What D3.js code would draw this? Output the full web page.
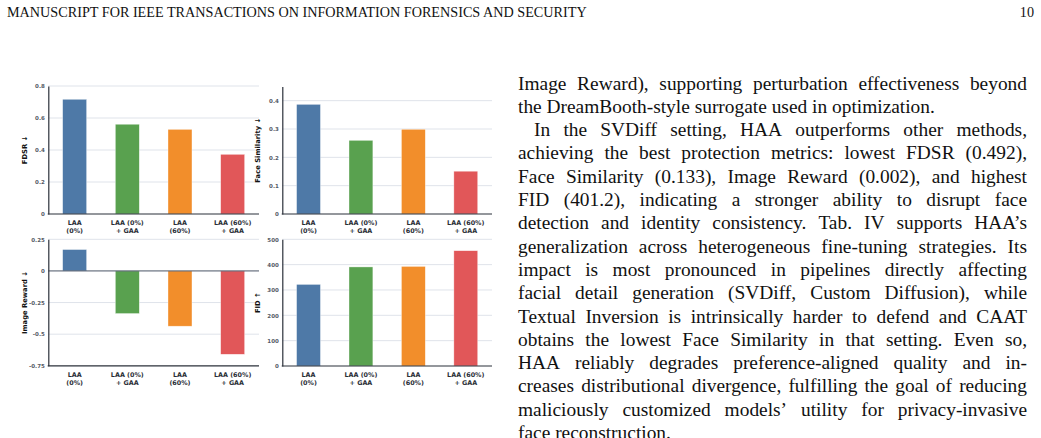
<!DOCTYPE html>
<html>
<head>
<meta charset="utf-8">
<script src="https://cdn.jsdelivr.net/npm/d3@7"></script>
<style>
  html, body { margin: 0; padding: 0; background: #fff; }
  svg { display: block; }
</style>
</head>
<body>
<svg id="page" width="1041" height="438"></svg>
<script>
// methods shown on the x axis of every panel
const methods = [["LAA", "(0%)"], ["LAA (0%)", "+ GAA"], ["LAA", "(60%)"], ["LAA (60%)", "+ GAA"]];
const barColors = ["#4e79a7", "#59a14f", "#f28e2b", "#e15759"];

// metric values
const fdsr = [0.717, 0.561, 0.529, 0.373];
const faceSim = [0.387, 0.260, 0.299, 0.151];
const imageReward = [0.169, -0.337, -0.437, -0.659];
const fid = [322, 391, 393, 455];

const fdsrTicks = [0, 0.2, 0.4, 0.6, 0.8];
const faceSimTicks = [0, 0.1, 0.2, 0.3, 0.4];
const rewardTicks = [-0.75, -0.5, -0.25, 0, 0.25];
const fidTicks = [0, 100, 200, 300, 400, 500];

const headerLeft = "MANUSCRIPT FOR IEEE TRANSACTIONS ON INFORMATION FORENSICS AND SECURITY";
const headerRight = "10";

// body text, one entry per printed line; last lines of paragraphs are not justified
const bodyLines = [
  ["Image Reward), supporting perturbation effectiveness beyond", true, false],
  ["the DreamBooth-style surrogate used in optimization.", false, false],
  ["In the SVDiff setting, HAA outperforms other methods,", true, true],
  ["achieving the best protection metrics: lowest FDSR (0.492),", true, false],
  ["Face Similarity (0.133), Image Reward (0.002), and highest", true, false],
  ["FID (401.2), indicating a stronger ability to disrupt face", true, false],
  ["detection and identity consistency. Tab. IV supports HAA\u2019s", true, false],
  ["generalization across heterogeneous fine-tuning strategies. Its", true, false],
  ["impact is most pronounced in pipelines directly affecting", true, false],
  ["facial detail generation (SVDiff, Custom Diffusion), while", true, false],
  ["Textual Inversion is intrinsically harder to defend and CAAT", true, false],
  ["obtains the lowest Face Similarity in that setting. Even so,", true, false],
  ["HAA reliably degrades preference-aligned quality and in-", true, false],
  ["creases distributional divergence, fulfilling the goal of reducing", true, false],
  ["maliciously customized models\u2019 utility for privacy-invasive", true, false],
  ["face reconstruction.", false, false]
];

const svg = d3.select("#page");
svg.append("rect").attr("width", 1041).attr("height", 438).attr("fill", "#fff");

const serif = "'Liberation Serif', 'Times New Roman', serif";
const sans = "'DejaVu Sans', sans-serif";

// running header
svg.append("text")
    .attr("x", 7).attr("y", 16.5)
    .style("font-family", serif).style("font-size", "14.2px").attr("fill", "#111")
    .text(headerLeft);
svg.append("text")
    .attr("x", 1034).attr("y", 16.5).attr("text-anchor", "end")
    .style("font-family", serif).style("font-size", "14.2px").attr("fill", "#111")
    .text(headerRight);

// the four bar panels
const panels = [
  {label: "FDSR \u2193", values: fdsr, domain: [0, 0.8], ticks: fdsrTicks, x0: 48.3, x1: 259, y0: 214, y1: 86, lx: 25},
  {label: "Face Similarity \u2193", values: faceSim, domain: [0, 0.45], ticks: faceSimTicks, x0: 282.3, x1: 492, y0: 214, y1: 86.5, lx: 258},
  {label: "Image Reward \u2193", values: imageReward, domain: [-0.75, 0.25], ticks: rewardTicks, x0: 48.3, x1: 259, y0: 365.8, y1: 239.3, lx: 25},
  {label: "FID \u2191", values: fid, domain: [0, 500], ticks: fidTicks, x0: 282.3, x1: 492, y0: 366, y1: 239.3, lx: 258}
];

panels.forEach(p => {
  const g = svg.append("g");
  const x = d3.scaleBand().domain(d3.range(methods.length)).range([p.x0, p.x1])
      .paddingInner(0.545).paddingOuter(0.2725);
  const y = d3.scaleLinear().domain(p.domain).range([p.y0, p.y1]);

  // grid
  g.append("g").selectAll("line")
    .data(p.ticks.filter(t => t !== p.domain[0] && t !== 0))
    .join("line")
      .attr("x1", p.x0).attr("x2", p.x1)
      .attr("y1", d => y(d)).attr("y2", d => y(d))
      .attr("stroke", "#dfe3ea").attr("stroke-width", 1);

  // bars
  g.append("g").selectAll("rect")
    .data(p.values)
    .join("rect")
      .attr("x", (d, i) => x(i))
      .attr("width", x.bandwidth())
      .attr("y", d => y(Math.max(0, d)))
      .attr("height", d => Math.abs(y(d) - y(0)))
      .attr("fill", (d, i) => barColors[i])
      .attr("stroke", "#fff").attr("stroke-opacity", 0.6).attr("stroke-width", 0.6);

  // zero line for signed metrics
  if (p.domain[0] < 0) {
    g.append("line")
      .attr("x1", p.x0).attr("x2", p.x1)
      .attr("y1", y(0)).attr("y2", y(0))
      .attr("stroke", "#4a5466").attr("stroke-width", 1);
  }

  // y axis
  const yAxis = d3.axisLeft(y).tickValues(p.ticks).tickSize(0).tickPadding(3.5)
      .tickFormat(d => String(d));
  const ya = g.append("g").attr("transform", `translate(${p.x0},0)`).call(yAxis);
  ya.select(".domain").attr("stroke", "#2b303a").attr("stroke-width", 1.2);
  ya.selectAll("text")
      .style("font-family", sans).style("font-weight", "bold").style("font-size", "5.5px")
      .attr("fill", "#555b66");

  // bottom spine
  g.append("line")
    .attr("x1", p.x0 - 0.6).attr("x2", p.x1)
    .attr("y1", p.y0).attr("y2", p.y0)
    .attr("stroke", "#2b303a").attr("stroke-width", 1.2);

  // x labels (two lines)
  const xl = g.append("g").selectAll("text")
    .data(methods)
    .join("text")
      .attr("x", (d, i) => x(i) + x.bandwidth() / 2)
      .attr("y", p.y0 + 11)
      .attr("text-anchor", "middle")
      .style("font-family", sans).style("font-weight", "bold").style("font-size", "6.4px")
      .attr("fill", "#2a2e36");
  xl.append("tspan").attr("x", (d, i) => x(i) + x.bandwidth() / 2).text(d => d[0]);
  xl.append("tspan").attr("x", (d, i) => x(i) + x.bandwidth() / 2).attr("dy", 8).text(d => d[1]);

  // y label
  g.append("text")
    .attr("transform", `translate(${p.lx},${(p.y0 + p.y1) / 2}) rotate(-90)`)
    .attr("text-anchor", "middle").attr("dy", "0.35em")
    .style("font-family", sans).style("font-weight", "bold").style("font-size", "6.8px")
    .attr("fill", "#111")
    .text(p.label);
});

// justified body column
const colLeft = 518, colRight = 1027, indent = 16, base0 = 89.5, lead = 23.3;
const body = svg.append("g")
    .style("font-family", serif).style("font-size", "19.4px").attr("fill", "#111");

bodyLines.forEach(([line, justify, indented], li) => {
  const yb = base0 + li * lead;
  const start = colLeft + (indented ? indent : 0);
  const t = body.append("text").attr("y", yb);
  const words = line.split(" ");
  const spans = words.map(w => t.append("tspan").text(w));
  const widths = spans.map(s => s.node().getComputedTextLength());
  const total = d3.sum(widths);
  const gap = justify && words.length > 1
      ? (colRight - start - total) / (words.length - 1)
      : 4.85;
  let cx = start;
  spans.forEach((s, i) => {
    s.attr("x", cx);
    cx += widths[i] + gap;
  });
});
</script>
</body>
</html>
